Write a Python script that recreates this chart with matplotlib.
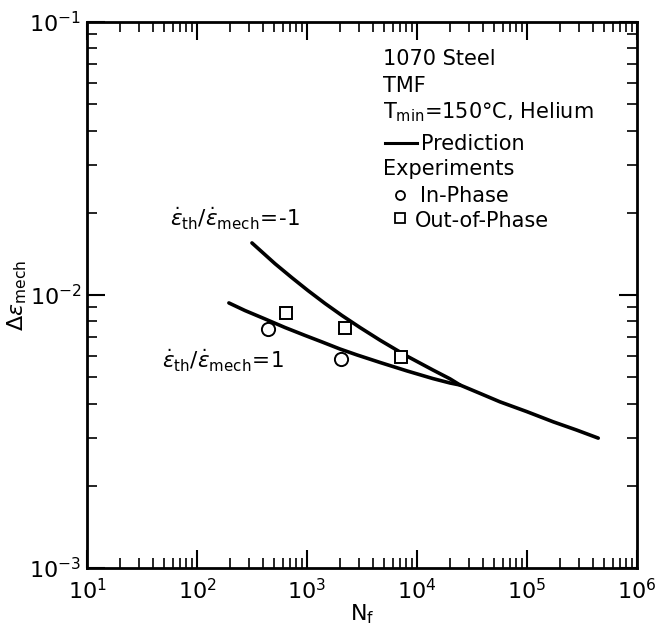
import matplotlib
matplotlib.use("Agg")
import matplotlib.pyplot as plt
from matplotlib.ticker import LogLocator, NullFormatter

plt.rcParams['font.family'] = ['DejaVu Sans']
plt.rcParams['mathtext.fontset'] = 'dejavusans'

# prediction, eps_th/eps_mech = -1 (out-of-phase), joins the in-phase curve near 2.5e4
nf_out = [316, 512, 731, 1021, 1458, 2080, 3034, 4613, 8110, 13970, 19950, 24600,
          37410, 56850, 99400, 173400, 283000, 444600]
de_out = [0.01551, 0.01302, 0.01156, 0.01038, 0.00931, 0.00841, 0.00760, 0.00683,
          0.00597, 0.00531, 0.00493, 0.00468, 0.00436, 0.00406, 0.00374, 0.00343,
          0.00320, 0.00299]

# prediction, eps_th/eps_mech = 1 (in-phase)
nf_in = [195, 273, 415, 631, 959, 1368, 1995, 2850, 4613, 8110, 13970, 19950, 24600]
de_in = [0.00935, 0.00877, 0.00817, 0.00760, 0.00711, 0.00673, 0.00634, 0.00603,
         0.00566, 0.00527, 0.00494, 0.00476, 0.00468]

# experiments
nf_exp_in = [442, 2037]
de_exp_in = [0.0075, 0.00583]
nf_exp_out = [646, 2215, 7160]
de_exp_out = [0.00859, 0.00757, 0.00593]

fig = plt.figure(figsize=(6.6, 6.26), dpi=100)
ax = fig.add_axes([0.1318, 0.0927, 0.8333, 0.8722])

ax.plot(nf_out, de_out, color='black', lw=2.6, solid_capstyle='round',
        solid_joinstyle='round')
ax.plot(nf_in, de_in, color='black', lw=2.6, solid_capstyle='round',
        solid_joinstyle='round')
ax.plot(nf_exp_in, de_exp_in, 'o', ms=9.5, mfc='white', mec='black', mew=1.4)
ax.plot(nf_exp_out, de_exp_out, 's', ms=9.2, mfc='white', mec='black', mew=1.4)

ax.set_xscale('log')
ax.set_yscale('log')
ax.set_xlim(1e1, 1e6)
ax.set_ylim(1e-3, 1e-1)

ax.xaxis.set_major_locator(LogLocator(base=10, numticks=10))
ax.yaxis.set_major_locator(LogLocator(base=10, numticks=10))
ax.xaxis.set_minor_locator(LogLocator(base=10, subs=range(2, 10), numticks=20))
ax.yaxis.set_minor_locator(LogLocator(base=10, subs=range(2, 10), numticks=20))
ax.xaxis.set_minor_formatter(NullFormatter())
ax.yaxis.set_minor_formatter(NullFormatter())

ax.tick_params(which='both', direction='in', top=True, right=True, labelsize=16)
ax.tick_params(which='major', length=13, width=1.5)
ax.tick_params(which='minor', length=7, width=1.2)
ax.tick_params(axis='x', which='major', pad=7)
ax.tick_params(axis='y', which='major', pad=4)
for s in ax.spines.values():
    s.set_linewidth(2.0)

ax.set_xlabel(r'$\mathrm{N_f}$', fontsize=16, labelpad=0)
ax.set_ylabel(r'$\Delta\epsilon_{\mathrm{mech}}$', fontsize=16, labelpad=0)

# curve labels
ax.text(0.151, 0.625, r'$\dot{\epsilon}_{\mathrm{th}}/\dot{\epsilon}_{\mathrm{mech}}\!=\!\text{-}1$',
        transform=ax.transAxes, fontsize=15.5, va='baseline')
ax.text(0.136, 0.366, r'$\dot{\epsilon}_{\mathrm{th}}/\dot{\epsilon}_{\mathrm{mech}}\!=\!1$',
        transform=ax.transAxes, fontsize=15.5, va='baseline')

# key block
tx = 0.538
fs = 15
ax.text(tx, 0.921, '1070 Steel', transform=ax.transAxes, fontsize=fs, va='baseline')
ax.text(tx, 0.872, 'TMF', transform=ax.transAxes, fontsize=fs, va='baseline')
ax.text(tx, 0.824, r'T$_{\mathrm{min}}$=150°C, Helium', transform=ax.transAxes,
        fontsize=fs, va='baseline')
ax.plot([0.542, 0.600], [0.778, 0.778], color='black', lw=2.2, transform=ax.transAxes)
ax.text(0.607, 0.766, 'Prediction', transform=ax.transAxes, fontsize=fs, va='baseline')
ax.text(tx, 0.720, 'Experiments', transform=ax.transAxes, fontsize=fs, va='baseline')
ax.plot([0.569], [0.683], 'o', ms=6.5, mfc='white', mec='black', mew=1.3,
        transform=ax.transAxes)
ax.text(0.605, 0.670, 'In-Phase', transform=ax.transAxes, fontsize=fs, va='baseline')
ax.plot([0.569], [0.641], 's', ms=6.5, mfc='white', mec='black', mew=1.3,
        transform=ax.transAxes)
ax.text(0.596, 0.625, 'Out-of-Phase', transform=ax.transAxes, fontsize=fs, va='baseline')

fig.savefig('out.png', dpi=100)
